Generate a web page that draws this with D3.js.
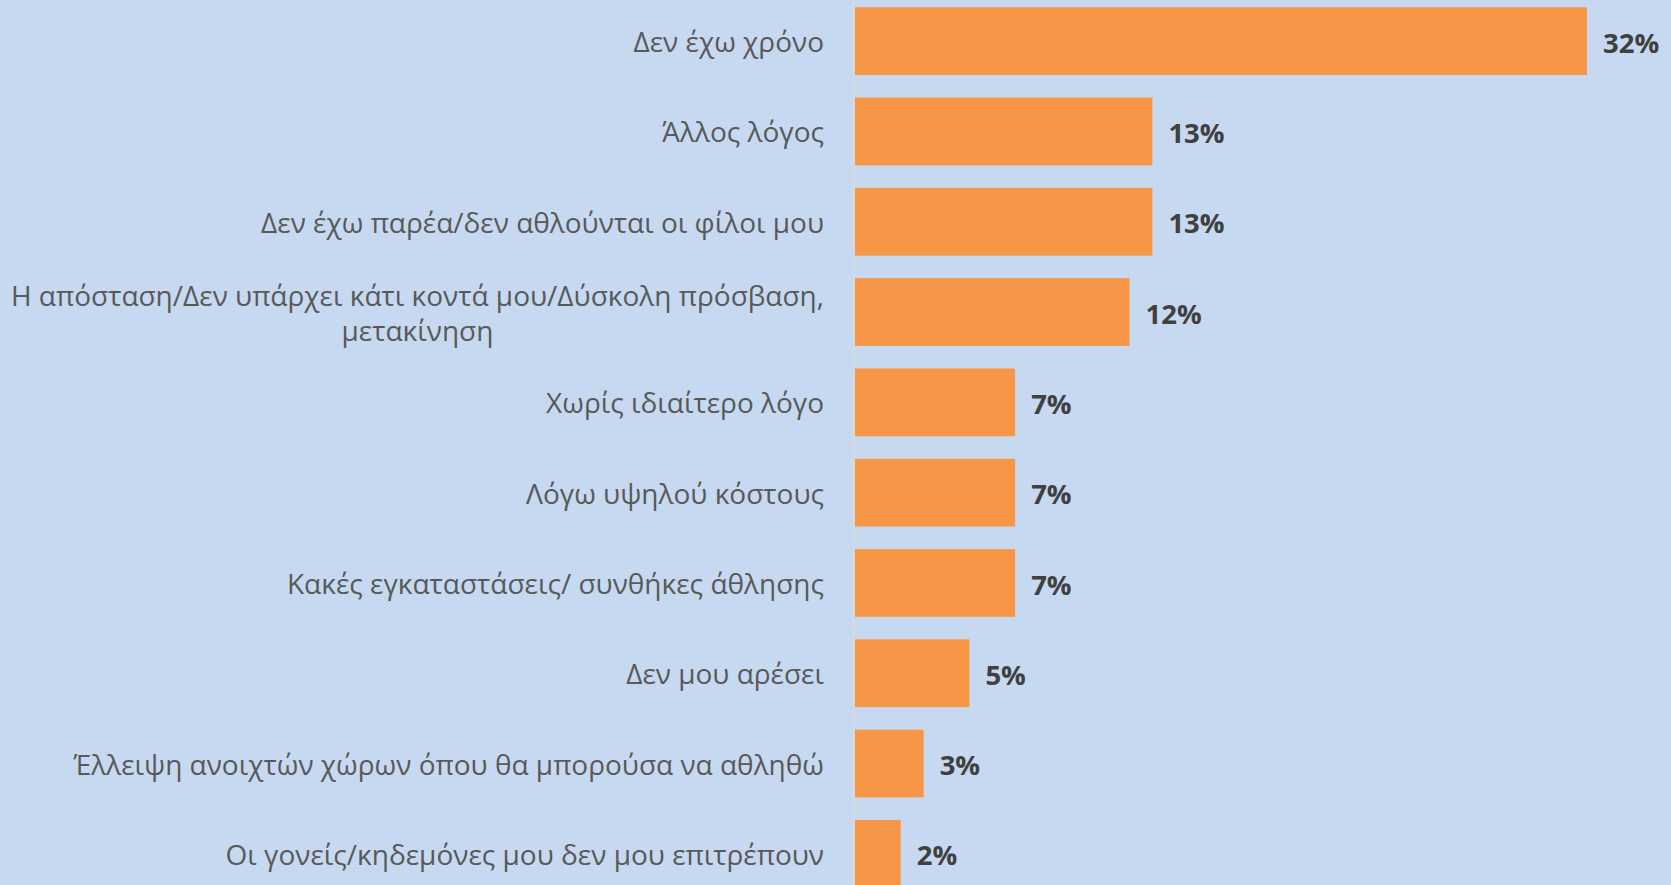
<!DOCTYPE html>
<html><head><meta charset="utf-8">
<script src="https://cdn.jsdelivr.net/npm/d3@7"></script>
<style>
html,body{margin:0;padding:0;background:#C6D9F0;}
svg{display:block;}
</style></head>
<body>
<svg id="chart" width="1671" height="885"></svg>
<script>
const categories = [
  "Δεν έχω χρόνο",
  "Άλλος λόγος",
  "Δεν έχω παρέα/δεν αθλούνται οι φίλοι μου",
  "Η απόσταση/Δεν υπάρχει κάτι κοντά μου/Δύσκολη πρόσβαση, μετακίνηση",
  "Χωρίς ιδιαίτερο λόγο",
  "Λόγω υψηλού κόστους",
  "Κακές εγκαταστάσεις/ συνθήκες άθλησης",
  "Δεν μου αρέσει",
  "Έλλειψη ανοιχτών χώρων όπου θα μπορούσα να αθληθώ",
  "Οι γονείς/κηδεμόνες μου δεν μου επιτρέπουν"
];
const values = [32, 13, 13, 12, 7, 7, 7, 5, 3, 2];
const valueLabels = ["32%", "13%", "13%", "12%", "7%", "7%", "7%", "5%", "3%", "2%"];
const wrapLines = {
  "Η απόσταση/Δεν υπάρχει κάτι κοντά μου/Δύσκολη πρόσβαση, μετακίνηση":
    ["Η απόσταση/Δεν υπάρχει κάτι κοντά μου/Δύσκολη πρόσβαση,", "μετακίνηση"]
};

const svg = d3.select("#chart");
const W = 1671, H = 885;
svg.append("rect").attr("width", W).attr("height", H).attr("fill", "#C6D9F0");

const x0 = 855;
const x = d3.scaleLinear().domain([0, 32]).range([x0, 1587]);
const y = d3.scaleBand().domain(categories).range([-4, 899])
  .paddingInner(0.25).paddingOuter(0.125);

// bars
svg.append("g").selectAll("rect").data(categories).join("rect")
  .attr("x", x(0))
  .attr("y", d => y(d))
  .attr("width", (d, i) => x(values[i]) - x(0))
  .attr("height", y.bandwidth())
  .attr("fill", "#F79646");

// axis
const fs = 28;
const pad = 30;
const axis = d3.axisLeft(y).tickSize(0).tickPadding(pad);
const gAxis = svg.append("g").attr("transform", `translate(${x0 - 1},0)`).call(axis);
gAxis.select(".domain").attr("stroke", "#D9D9D9").attr("stroke-width", 2)
  .attr("d", `M0,0V${H}`);
gAxis.selectAll(".tick text")
  .attr("fill", "#595959")
  .attr("y", 2)
  .style("font-family", "'Open Sans', sans-serif")
  .style("font-size", fs + "px")
  .each(function(d) {
    const lines = wrapLines[d];
    if (!lines) return;
    const t = d3.select(this);
    t.text(null).attr("text-anchor", "middle");
    const lh = 35;
    lines.forEach((ln, k) => {
      t.append("tspan").attr("x", 0)
        .attr("dy", k === 0 ? (-(lines.length - 1) / 2 * lh + 0.32 * fs) + "px" : lh + "px")
        .text(ln);
    });
    const maxW = this.getBBox().width;
    t.selectAll("tspan").attr("x", -pad - maxW / 2);
  });

// value labels
svg.append("g").selectAll("text").data(categories).join("text")
  .attr("x", (d, i) => x(values[i]) + 16)
  .attr("y", d => y(d) + y.bandwidth() / 2 + 2)
  .attr("dy", "0.35em")
  .attr("fill", "#404040")
  .style("font-family", "'Open Sans', sans-serif")
  .style("font-weight", "700")
  .style("font-size", "27.5px")
  .text((d, i) => valueLabels[i]);
</script>
</body></html>
